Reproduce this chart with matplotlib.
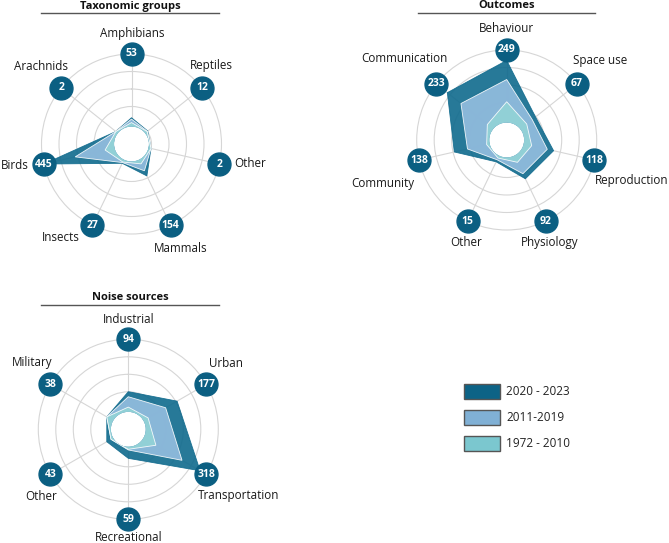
import numpy as np
import matplotlib
matplotlib.use('Agg')
import matplotlib.pyplot as plt
from matplotlib.patches import Rectangle
from matplotlib.lines import Line2D

plt.rcParams['font.family'] = ['Open Sans', 'DejaVu Sans']

# ---- data ----
periods = ['2020 - 2023', '2011-2019', '1972 - 2010']

tax_cats = ['Amphibians', 'Reptiles', 'Other', 'Mammals', 'Insects', 'Birds', 'Arachnids']
tax_totals = [53, 12, 2, 154, 27, 445, 2]
tax_2020 = [40, 5, 0, 98, 9, 445, 0]
tax_2011 = [31, 2, 0, 62, 4, 240, 0]
tax_1972 = [9, 0, 0, 13, 0, 45, 0]

out_cats = ['Behaviour', 'Space use', 'Reproduction', 'Physiology', 'Other',
            'Community', 'Communication']
out_totals = [249, 67, 118, 92, 15, 138, 233]
out_2020 = [212, 60, 100, 82, 15, 120, 199]
out_2011 = [144, 45, 77, 62, 7, 72, 137]
out_1972 = [65, 20, 20, 17, 0, 2, 17]

noise_cats = ['Industrial', 'Urban', 'Transportation', 'Recreational', 'Other', 'Military']
noise_totals = [94, 177, 318, 59, 43, 38]
noise_2020 = [80, 165, 286, 41, 22, 22]
noise_2011 = [57, 105, 191, 3, 0, 22]
noise_1972 = [10, 13, 54, 0, 0, 22]

# ---- style ----
W, H = 669, 543
dark = '#0d6386'
light = '#80b0d5'
teal = '#7bc7cf'
# polygon fills are a touch lighter than the legend swatches
dark_fill = '#0f6a8d'
light_fill = '#95bee0'
teal_fill = '#93d3d6'
badge = '#0b5f82'
gridc = '#d6d6d6'

# label offsets from the badge, in pixels (dx right, dy down)
tax_off = [(1, -21), (10, -22), (31, -1), (10, 23), (-32, 12), (-29, 1), (-20, -21)]
out_off = [(0, -21), (23, -23), (37, 20), (4, 21), (-2, 21), (-36, 23), (-32, -25)]
noise_off = [(0, -20), (20, -21), (32, 21), (0, 18), (-9, 22), (-18, -22)]

fig = plt.figure(figsize=(W / 100, H / 100), dpi=100)


def polar_axes(cx, cy, R=90):
    return fig.add_axes([(cx - R) / W, (H - cy - R) / H, 2 * R / W, 2 * R / H],
                        projection='polar')


def radar(ax, cats, totals, layers, offsets):
    vmax = max(totals)
    n = len(cats)
    theta = np.arange(n) * 2 * np.pi / n
    ax.set_theta_zero_location('N')
    ax.set_theta_direction(-1)
    ax.set_ylim(-0.036 * vmax, vmax)
    ax.set_rorigin(-2 / 7 * vmax)
    ax.set_yticks(np.linspace(0, vmax, 5)[:-1])
    ax.set_yticklabels([])
    ax.set_xticks(theta)
    ax.set_xticklabels([])
    ax.tick_params(length=0)
    ax.grid(color=gridc, lw=0.8)
    ax.spines['polar'].set_color(gridc)
    ax.spines['polar'].set_linewidth(0.8)
    ax.spines['inner'].set_color('none')

    th = np.append(theta, theta[0])
    for vals, col, ec in layers:
        r = np.append(vals, vals[0])
        ax.fill(th, r, color=col, alpha=0.9, ec=ec, lw=0.6, zorder=2)

    for t, lab, tot, (dx, dy) in zip(theta, cats, totals, offsets):
        ax.plot(t, vmax, 'o', ms=16.5, color=badge, clip_on=False, zorder=5)
        ax.text(t, vmax, str(tot), ha='center', va='center', color='white',
                fontsize=7.5, fontweight='bold', clip_on=False, zorder=6)
        ax.annotate(lab, xy=(t, vmax), xytext=(dx * 0.72, -dy * 0.72),
                    textcoords='offset points', ha='center', va='center',
                    fontsize=8.4, color='#1a1a1a', annotation_clip=False)


def header(text, cx, y, x0, x1, ly):
    fig.text(cx / W, 1 - y / H, text, ha='center', va='center',
             fontsize=8, fontweight='bold', color='#111111')
    fig.add_artist(Line2D([x0 / W, x1 / W], [1 - ly / H] * 2, color='#555555', lw=1))


ax1 = polar_axes(131.5, 144)
radar(ax1, tax_cats, tax_totals,
      [(tax_2020, dark_fill, dark_fill), (tax_2011, light_fill, 'white'),
       (tax_1972, teal_fill, 'white')],
      tax_off)
header('Taxonomic groups', 130, 6, 41, 219, 13.3)

ax2 = polar_axes(506.7, 140)
radar(ax2, out_cats, out_totals,
      [(out_2020, dark_fill, dark_fill), (out_2011, light_fill, 'white'),
       (out_1972, teal_fill, 'white')],
      out_off)
header('Outcomes', 506.3, 6, 417.7, 595, 13.3)

ax3 = polar_axes(128.3, 429.3)
radar(ax3, noise_cats, noise_totals,
      [(noise_2020, dark_fill, dark_fill), (noise_2011, light_fill, 'white'),
       (noise_1972, teal_fill, 'white')],
      noise_off)
header('Noise sources', 130, 297, 41, 219, 305)

# legend
for i, (lab, col) in enumerate(zip(periods, [dark, light, teal])):
    y0 = 384 + i * 26
    fig.add_artist(Rectangle((464.3 / W, 1 - (y0 + 15) / H), 35.7 / W, 15 / H,
                             transform=fig.transFigure, fc=col, ec='#555555', lw=1))
    fig.text(506 / W, 1 - (y0 + 7.5) / H, lab, ha='left', va='center',
             fontsize=8.5, color='#222222')

fig.savefig('out.png', dpi=100, facecolor='white')
